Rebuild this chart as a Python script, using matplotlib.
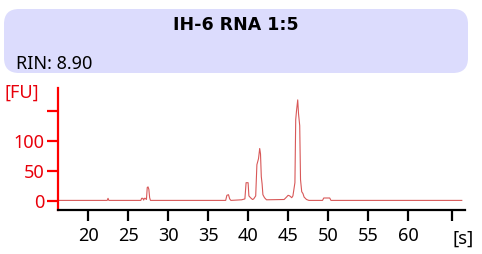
import matplotlib.pyplot as plt
from matplotlib.patches import FancyBboxPatch

# electropherogram trace
tempo = [16.3, 22.4, 22.5, 22.6, 26.6, 26.7, 26.85, 26.95, 27.05, 27.15, 27.3, 27.4,
         27.5, 27.6, 27.7, 27.8, 37.2, 37.35, 37.55, 37.7, 37.85, 39.2, 39.6, 39.75,
         40.0, 40.1, 40.3, 40.55, 40.7, 40.95, 41.1, 41.3, 41.45, 41.55, 41.65, 41.75,
         41.85, 42.05, 42.3, 44.5, 44.8, 45.0, 45.2, 45.45, 45.6, 45.85, 45.95, 46.05,
         46.2, 46.3, 46.45, 46.55, 46.7, 46.85, 47.0, 47.3, 47.6, 49.3, 49.45, 50.2,
         50.35, 66.7]
fu = [0.5, 0.5, 4, 0.5, 0.5, 4, 4, 1, 4, 4, 2, 22,
      23, 19, 5, 0.5, 0.5, 9, 10, 3, 0.5, 1.5, 3, 30,
      30, 8, 5, 2, 3, 8, 60, 70, 87, 78, 40, 28,
      10, 5, 1.5, 2, 6, 9, 8, 5, 8, 30, 135, 150,
      168, 145, 125, 35, 15, 12, 6, 2, 0.5, 0.5, 4.5, 4.5,
      0.5, 0.5]

xticks = [20, 25, 30, 35, 40, 45, 50, 55, 60, 65.5]
xlabels = ['20', '25', '30', '35', '40', '45', '50', '55', '60', '']
yticks = [0, 50, 100, 150]
ylabels = ['0', '50', '100', '']

titulo = 'IH-6 RNA 1:5'
rin = 'RIN: 8.90'

W, H = 482, 254
plt.rcParams['font.family'] = ['Noto Sans', 'DejaVu Sans']
fig = plt.figure(figsize=(W / 100, H / 100), dpi=100)

# background overlay in pixel units
bg = fig.add_axes([0, 0, 1, 1])
bg.set_xlim(0, W)
bg.set_ylim(H, 0)
bg.axis('off')
bg.add_patch(FancyBboxPatch((4, 9), 464, 64, boxstyle='round,pad=0,rounding_size=15',
                            facecolor='#dcdcfd', edgecolor='none'))
bg.text(236, 25, titulo, ha='center', va='center', fontsize=12.5, fontweight='bold',
        family='DejaVu Sans')
bg.text(16, 64, rin, ha='left', va='center', fontsize=13)
bg.text(4, 93, '[FU]', ha='left', va='center', fontsize=13, color='#e8000b')
bg.text(463, 239, '[s]', ha='center', va='center', fontsize=13.5)

vermelho = '#ff0000'
ax = fig.add_axes([58 / W, (H - 210) / H, (465 - 58) / W, (210 - 88) / H])
ax.plot(tempo, fu, color='#d85858', lw=0.8)
ax.set_xlim(16.25, 67.1)
ax.set_ylim(-15.5, 187.8)
ax.set_facecolor('none')
for s in ['top', 'right']:
    ax.spines[s].set_visible(False)
ax.spines['left'].set_color(vermelho)
ax.spines['left'].set_linewidth(1.6)
ax.spines['bottom'].set_color('black')
ax.spines['bottom'].set_linewidth(1.6)

ax.set_xticks(xticks)
ax.set_xticklabels(xlabels)
ax.set_yticks(yticks)
ax.set_yticklabels(ylabels)
ax.tick_params(axis='x', direction='out', length=8, width=1.6, colors='black',
               labelsize=13, pad=4)
ax.tick_params(axis='y', direction='out', length=8, width=1.6, colors=vermelho,
               labelcolor='#e8000b', labelsize=13, pad=2)

fig.savefig('out.png', dpi=100)
